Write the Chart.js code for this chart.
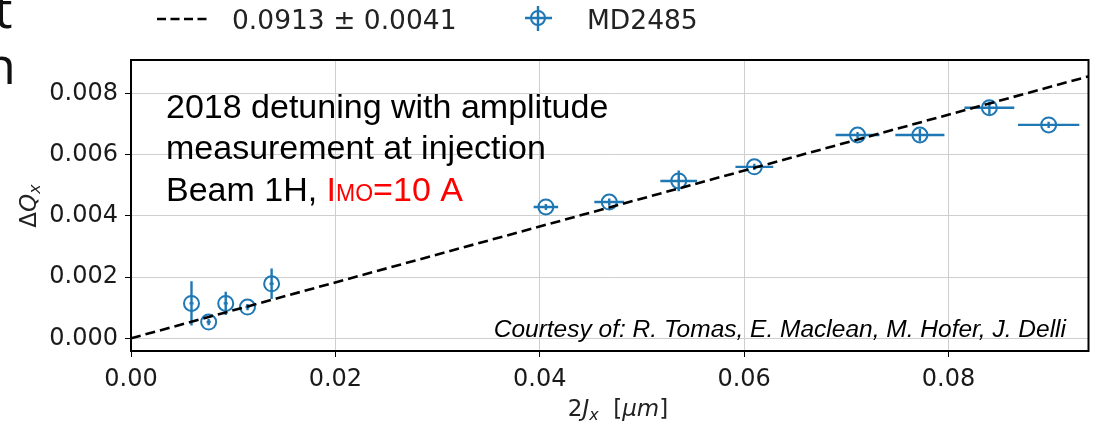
<!DOCTYPE html>
<html>
<head>
<meta charset="utf-8">
<script src="https://cdn.jsdelivr.net/npm/chart.js@4.4.1/dist/chart.umd.min.js"></script>
<style>
  html, body { margin: 0; padding: 0; background: #fff; }
</style>
</head>
<body>
<canvas id="chart" width="1098" height="423"></canvas>
<script>
// measured points, MD2485
const jx    = [0.00592, 0.0076, 0.00927, 0.0114, 0.01376, 0.0406, 0.0468, 0.0536, 0.0610, 0.0711, 0.0772, 0.0840, 0.0898]
const dq    = [0.00114, 0.00053, 0.00114, 0.00102, 0.00178, 0.00429, 0.00445, 0.00514, 0.00560, 0.00664, 0.00664, 0.00753, 0.00697]
const jxErr = [0.0002, 0.0002, 0.0002, 0.0002, 0.0002, 0.0012, 0.00146, 0.0018, 0.00185, 0.00215, 0.0024, 0.00244, 0.003]
const dqErr = [0.00072, 0.0001, 0.00038, 0.0001, 0.0005, 0.0001, 0.00012, 0.00034, 0.0001, 0.0001, 0.0002, 0.0002, 0.0001]

// linear fit 0.0913 ± 0.0041
const fitX = [0, 0.0937]
const fitY = [0, 0.008555]

const xTicks = [0, 0.02, 0.04, 0.06, 0.08]
const yTicks = [0, 0.002, 0.004, 0.006, 0.008]

const blue = '#1f77b4'
const sans = '"Liberation Sans", Arial, sans-serif'
const dejavu = '"DejaVu Sans", sans-serif'

// draws [text, font, dy] pieces one after another
function drawParts(ctx, parts, cx, y) {
  let w = 0
  for (const p of parts) { ctx.font = p[1]; w += ctx.measureText(p[0]).width }
  let x = cx - w / 2
  for (const p of parts) {
    ctx.font = p[1]
    ctx.fillText(p[0], x, y + p[2])
    x += ctx.measureText(p[0]).width
  }
}

const extras = {
  id: 'extras',
  beforeDatasetsDraw(chart) {
    // error bars, under the circle markers
    const { ctx } = chart
    const xs = chart.scales.x
    const ys = chart.scales.y
    ctx.save()
    ctx.strokeStyle = blue
    ctx.lineWidth = 2.4
    for (let i = 0; i < jx.length; i++) {
      const px = xs.getPixelForValue(jx[i])
      const py = ys.getPixelForValue(dq[i])
      ctx.beginPath()
      ctx.moveTo(xs.getPixelForValue(jx[i] - jxErr[i]), py)
      ctx.lineTo(xs.getPixelForValue(jx[i] + jxErr[i]), py)
      ctx.moveTo(px, ys.getPixelForValue(dq[i] - dqErr[i]))
      ctx.lineTo(px, ys.getPixelForValue(dq[i] + dqErr[i]))
      ctx.stroke()
    }
    ctx.restore()
  },
  afterDraw(chart) {
    const { ctx, chartArea: a } = chart
    ctx.save()

    // frame
    ctx.strokeStyle = '#000'
    ctx.lineWidth = 2
    ctx.strokeRect(a.left, a.top, a.right - a.left, a.bottom - a.top)

    // annotation
    ctx.fillStyle = '#000'
    ctx.textBaseline = 'alphabetic'
    ctx.textAlign = 'left'
    ctx.font = '34px ' + sans
    ctx.fillText('2018 detuning with amplitude', 166, 118)
    ctx.fillText('measurement at injection', 166, 159)
    const b1 = 'Beam 1H, '
    ctx.fillText(b1, 166, 201)
    let x = 166 + ctx.measureText(b1).width
    ctx.fillStyle = '#ff0000'
    ctx.fillText('I', x, 201)
    x += ctx.measureText('I').width
    ctx.font = '23px ' + sans
    ctx.fillText('MO', x, 201)
    x += ctx.measureText('MO').width
    ctx.font = '34px ' + sans
    ctx.fillText('=10 A', x, 201)

    ctx.fillStyle = '#000'
    ctx.textAlign = 'right'
    ctx.font = 'italic 24.5px ' + sans
    ctx.fillText('Courtesy of: R. Tomas, E. Maclean, M. Hofer, J. Delli', 1066, 337)

    // legend
    ctx.textAlign = 'left'
    ctx.strokeStyle = '#000'
    ctx.lineWidth = 2.4
    ctx.setLineDash([9, 4.5])
    ctx.beginPath()
    ctx.moveTo(157, 19)
    ctx.lineTo(211, 19)
    ctx.stroke()
    ctx.setLineDash([])
    ctx.fillStyle = '#222'
    ctx.font = '26.5px ' + dejavu
    ctx.fillText('0.0913 \u00b1 0.0041', 232, 29)
    ctx.strokeStyle = blue
    ctx.beginPath()
    ctx.moveTo(525, 18); ctx.lineTo(552, 18)
    ctx.moveTo(538, 6); ctx.lineTo(538, 31)
    ctx.stroke()
    ctx.lineWidth = 2
    ctx.beginPath()
    ctx.arc(538, 18, 7, 0, Math.PI * 2)
    ctx.stroke()
    ctx.fillText('MD2485', 587, 29)

    // cut-off text at the left edge
    ctx.fillStyle = '#111'
    ctx.font = '52px "Open Sans", sans-serif'
    ctx.fillText('t', -6, 28)
    ctx.fillText('n', -16, 84)

    // axis titles
    ctx.fillStyle = '#222'
    drawParts(ctx, [['2', '23px ' + dejavu, 0], ['J', 'italic 23px ' + dejavu, 0],
                    ['x', 'italic 16px ' + dejavu, 4], ['  [', '23px ' + dejavu, 0],
                    ['\u03bcm', 'italic 23px ' + dejavu, 0], [']', '23px ' + dejavu, 0]], 618, 416)

    ctx.translate(36, 206)
    ctx.rotate(-Math.PI / 2)
    drawParts(ctx, [['\u0394', '23px ' + dejavu, 0], ['Q', 'italic 23px ' + dejavu, 0],
                    ['x', 'italic 16px ' + dejavu, 4]], 0, 0)

    ctx.restore()
  }
}

new Chart(document.getElementById('chart'), {
  type: 'scatter',
  data: {
    datasets: [
      {
        type: 'line',
        label: 'fit',
        data: fitX.map((v, i) => ({ x: v, y: fitY[i] })),
        borderColor: '#000',
        borderWidth: 2.6,
        borderDash: [10, 5],
        pointRadius: 0,
        fill: false
      },
      {
        label: 'MD2485',
        data: jx.map((v, i) => ({ x: v, y: dq[i] })),
        pointStyle: 'circle',
        pointRadius: 7.5,
        pointBorderWidth: 2,
        pointBackgroundColor: 'rgba(0,0,0,0)',
        pointBorderColor: blue
      }
    ]
  },
  options: {
    responsive: false,
    animation: false,
    layout: { padding: { left: 0, top: 60, right: 5, bottom: 0 } },
    plugins: { legend: { display: false }, tooltip: { enabled: false } },
    scales: {
      x: {
        type: 'linear',
        min: 0,
        max: 0.0937,
        afterBuildTicks: (s) => { s.ticks = xTicks.map(v => ({ value: v })) },
        afterFit: (s) => { s.height = 72 },
        grid: { color: '#cfcfcf', lineWidth: 1, tickColor: '#000', tickLength: 6 },
        border: { display: false },
        ticks: {
          color: '#1a1a1a',
          font: { family: 'DejaVu Sans', size: 24 },
          padding: 8,
          maxRotation: 0,
          callback: (v) => v.toFixed(2)
        }
      },
      y: {
        type: 'linear',
        min: -0.000415,
        max: 0.00909,
        afterBuildTicks: (s) => { s.ticks = yTicks.map(v => ({ value: v })) },
        afterFit: (s) => { s.width = 131 },
        grid: { color: '#cfcfcf', lineWidth: 1, tickColor: '#000', tickLength: 6 },
        border: { display: false },
        ticks: {
          color: '#1a1a1a',
          font: { family: 'DejaVu Sans', size: 24 },
          padding: 7,
          callback: (v) => v.toFixed(3)
        }
      }
    }
  },
  plugins: [extras]
})
</script>
</body>
</html>
